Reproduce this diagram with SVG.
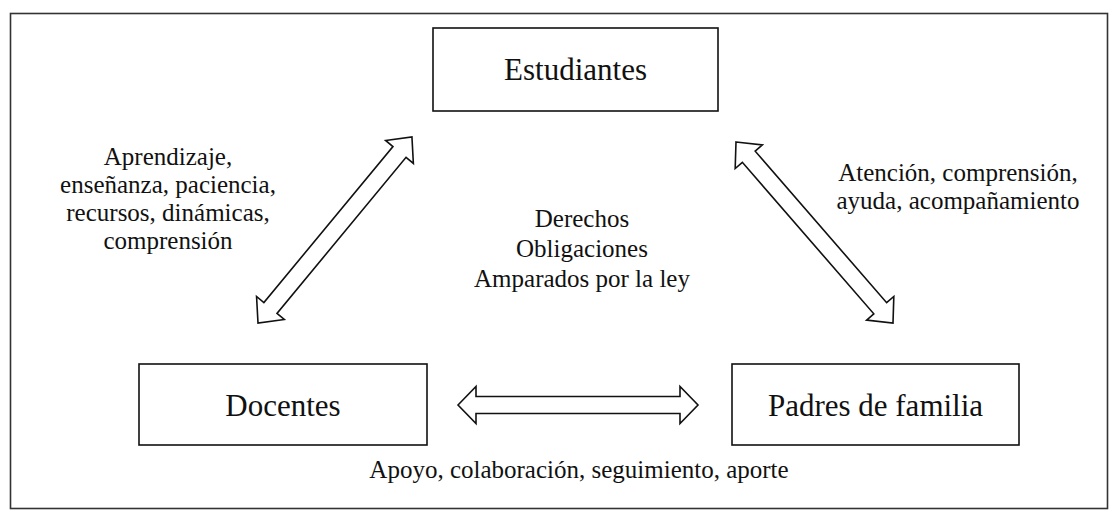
<svg xmlns="http://www.w3.org/2000/svg" width="1110" height="512" viewBox="0 0 1110 512">
<style>
.node rect{fill:#fff;stroke:#111;stroke-width:1.6}
.main{font-family:"Liberation Serif","Times New Roman",serif;font-size:31px;fill:#111;text-anchor:middle}
.lbl{font-family:"Liberation Serif","Times New Roman",serif;font-size:25px;fill:#111;text-anchor:middle}
.arr{fill:#fff;stroke:#111;stroke-width:1.6;stroke-linejoin:miter}
</style>
<defs>
<polygon id="dbl" points="0,0 19,-18 19,-8.5 -19,-8.5 -19,-18 0,0" />
</defs>
<rect x="10.5" y="13.5" width="1097" height="495" fill="#fff" stroke="#333" stroke-width="1.6"/>
<g id="connectors">
<polygon class="arr" transform="translate(258,323) rotate(-50.4)" points="0,0 19.5,-18 19.5,-8.5 222,-8.5 222,-18 241.5,0 222,18 222,8.5 19.5,8.5 19.5,18"/>
<polygon class="arr" transform="translate(736,142) rotate(49.06)" points="0,0 19.5,-18 19.5,-8.5 220.1,-8.5 220.1,-18 239.6,0 220.1,18 220.1,8.5 19.5,8.5 19.5,18"/>
<polygon class="arr" transform="translate(458,405)" points="0,0 18,-18.5 18,-8.5 222,-8.5 222,-18.5 240,0 222,18.5 222,8.5 18,8.5 18,18.5"/>
</g>
<g id="estudiantes" class="node">
<rect x="433" y="28" width="285" height="83"/>
<text class="main" x="575.5" y="80">Estudiantes</text>
</g>
<g id="docentes" class="node">
<rect x="139" y="364" width="288" height="81"/>
<text class="main" x="283" y="416">Docentes</text>
</g>
<g id="padres" class="node">
<rect x="732" y="364" width="287" height="81"/>
<text class="main" x="875.5" y="416">Padres de familia</text>
</g>
<g id="labels">
<text class="lbl" x="168" y="165">Aprendizaje,</text>
<text class="lbl" x="168" y="193">enseñanza, paciencia,</text>
<text class="lbl" x="168" y="221">recursos, dinámicas,</text>
<text class="lbl" x="168" y="249">comprensión</text>
<text class="lbl" x="958" y="181">Atención, comprensión,</text>
<text class="lbl" x="958" y="209">ayuda, acompañamiento</text>
<text class="lbl" x="582" y="227">Derechos</text>
<text class="lbl" x="582" y="257">Obligaciones</text>
<text class="lbl" x="582" y="287">Amparados por la ley</text>
<text class="lbl" x="579" y="478">Apoyo, colaboración, seguimiento, aporte</text>
</g>
</svg>
